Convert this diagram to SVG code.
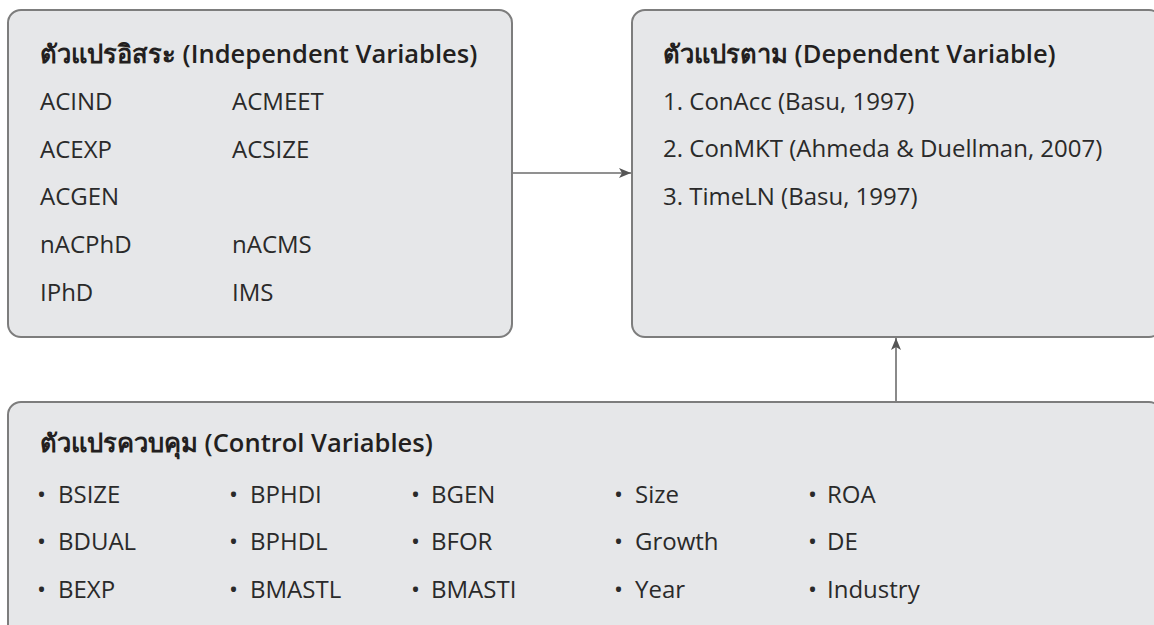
<svg xmlns="http://www.w3.org/2000/svg" width="1154" height="625" viewBox="0 0 1154 625">
<defs>
<style>
.box{fill:#e6e7e9;stroke:#7d7d7d;stroke-width:2}
.t{font-family:"Open Sans","Noto Sans","DejaVu Sans",sans-serif;font-size:24px;fill:#2a2a2a}
.h{font-family:"Open Sans","Noto Sans","DejaVu Sans",sans-serif;font-size:25.5px;font-weight:600;fill:#231f20}
.conn{stroke:#6d6d6d;stroke-width:1.6;fill:none}
</style>
<marker id="ah" viewBox="0 0 12 10" refX="12" refY="5" markerWidth="12" markerHeight="10" markerUnits="userSpaceOnUse" orient="auto">
<path d="M0,0 L12,5 L0,10 L3,5 Z" fill="#555"/>
</marker>
</defs>
<rect width="1154" height="625" fill="#ffffff"/>
<g id="connectors">
<line class="conn" x1="513" y1="173" x2="631" y2="173" marker-end="url(#ah)"/>
<line class="conn" x1="896" y1="401" x2="896" y2="338" marker-end="url(#ah)"/>
</g>
<g id="independent">
<rect class="box" x="8" y="10" width="504" height="327" rx="13"/>
<text class="h" x="40" y="63">ตัวแปรอิสระ (Independent Variables)</text>
<text class="t" x="40" y="110">ACIND</text>
<text class="t" x="232" y="110">ACMEET</text>
<text class="t" x="40" y="158">ACEXP</text>
<text class="t" x="232" y="158">ACSIZE</text>
<text class="t" x="40" y="205">ACGEN</text>
<text class="t" x="40" y="253">nACPhD</text>
<text class="t" x="232" y="253">nACMS</text>
<text class="t" x="40" y="301">IPhD</text>
<text class="t" x="232" y="301">IMS</text>
</g>
<g id="dependent">
<rect class="box" x="632" y="10" width="530" height="327" rx="13"/>
<text class="h" x="663" y="63">ตัวแปรตาม (Dependent Variable)</text>
<text class="t" x="663" y="110">1. ConAcc (Basu, 1997)</text>
<text class="t" x="663" y="157">2. ConMKT (Ahmeda &amp; Duellman, 2007)</text>
<text class="t" x="663" y="205">3. TimeLN (Basu, 1997)</text>
</g>
<g id="control">
<rect class="box" x="8" y="402" width="1154" height="240" rx="13"/>
<text class="h" x="40" y="452">ตัวแปรควบคุม (Control Variables)</text>
<g>
<text class="t" x="37" y="503">•</text><text class="t" x="58" y="503">BSIZE</text>
<text class="t" x="37" y="550">•</text><text class="t" x="58" y="550">BDUAL</text>
<text class="t" x="37" y="598">•</text><text class="t" x="58" y="598">BEXP</text>
<text class="t" x="229" y="503">•</text><text class="t" x="250" y="503">BPHDI</text>
<text class="t" x="229" y="550">•</text><text class="t" x="250" y="550">BPHDL</text>
<text class="t" x="229" y="598">•</text><text class="t" x="250" y="598">BMASTL</text>
<text class="t" x="411" y="503">•</text><text class="t" x="431" y="503">BGEN</text>
<text class="t" x="411" y="550">•</text><text class="t" x="431" y="550">BFOR</text>
<text class="t" x="411" y="598">•</text><text class="t" x="431" y="598">BMASTI</text>
<text class="t" x="614" y="503">•</text><text class="t" x="635" y="503">Size</text>
<text class="t" x="614" y="550">•</text><text class="t" x="635" y="550">Growth</text>
<text class="t" x="614" y="598">•</text><text class="t" x="635" y="598">Year</text>
<text class="t" x="808" y="503">•</text><text class="t" x="827" y="503">ROA</text>
<text class="t" x="808" y="550">•</text><text class="t" x="827" y="550">DE</text>
<text class="t" x="808" y="598">•</text><text class="t" x="827" y="598">Industry</text>
</g>
</g>
</svg>
